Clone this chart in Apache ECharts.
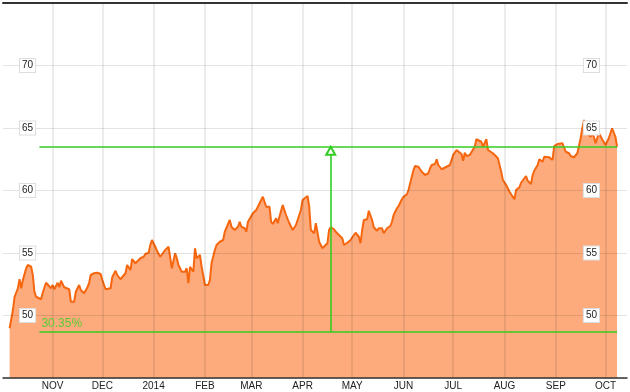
<!DOCTYPE html>
<html>
<head>
<meta charset="utf-8">
<script src="https://cdn.jsdelivr.net/npm/echarts@6/dist/echarts.min.js"></script>
<style>html,body{margin:0;padding:0;background:#fff}#c{width:630px;height:392px}</style>
</head>
<body>
<div id="c"></div>
<script>
// ---- data ----
const dates = [
'2013-10-06','2013-10-08','2013-10-09','2013-10-11','2013-10-12','2013-10-13','2013-10-14','2013-10-16','2013-10-17','2013-10-19',
'2013-10-20','2013-10-21','2013-10-22','2013-10-23','2013-10-25','2013-10-26','2013-10-28','2013-10-29','2013-10-31',
'2013-11-01','2013-11-02','2013-11-04','2013-11-05','2013-11-06','2013-11-08','2013-11-09','2013-11-11','2013-11-12','2013-11-14',
'2013-11-15','2013-11-17','2013-11-18','2013-11-20','2013-11-22','2013-11-23','2013-11-24','2013-11-26','2013-11-28','2013-11-30',
'2013-12-01','2013-12-03','2013-12-04','2013-12-06','2013-12-07','2013-12-09','2013-12-10','2013-12-12','2013-12-13','2013-12-15',
'2013-12-16','2013-12-18','2013-12-19','2013-12-21','2013-12-22','2013-12-24','2013-12-26','2013-12-27','2013-12-29','2013-12-30','2013-12-31',
'2014-01-02','2014-01-03','2014-01-05','2014-01-06','2014-01-08','2014-01-10','2014-01-12','2014-01-14','2014-01-15','2014-01-16',
'2014-01-18','2014-01-20','2014-01-21','2014-01-22','2014-01-23','2014-01-25','2014-01-26','2014-01-27','2014-01-29','2014-01-30',
'2014-02-01','2014-02-03','2014-02-04','2014-02-05','2014-02-07','2014-02-08','2014-02-10','2014-02-12','2014-02-13','2014-02-16',
'2014-02-17','2014-02-18','2014-02-19','2014-02-21','2014-02-22','2014-02-23','2014-02-25','2014-02-26','2014-02-27','2014-02-28',
'2014-03-02','2014-03-04','2014-03-05','2014-03-07','2014-03-08','2014-03-10','2014-03-12','2014-03-13','2014-03-14','2014-03-16',
'2014-03-17','2014-03-18','2014-03-20','2014-03-22','2014-03-23','2014-03-24','2014-03-26','2014-03-28','2014-03-29','2014-03-31',
'2014-04-01','2014-04-04','2014-04-05','2014-04-06','2014-04-08','2014-04-09','2014-04-11','2014-04-13','2014-04-14','2014-04-16',
'2014-04-17','2014-04-18','2014-04-20','2014-04-21','2014-04-23','2014-04-25','2014-04-26','2014-04-28','2014-04-30',
'2014-05-02','2014-05-03','2014-05-05','2014-05-06','2014-05-07','2014-05-08','2014-05-10','2014-05-11','2014-05-13','2014-05-14',
'2014-05-16','2014-05-17','2014-05-19','2014-05-20','2014-05-22','2014-05-24','2014-05-25','2014-05-26','2014-05-28','2014-05-29','2014-05-31',
'2014-06-01','2014-06-03','2014-06-04','2014-06-05','2014-06-07','2014-06-08','2014-06-10','2014-06-11','2014-06-12','2014-06-14',
'2014-06-16','2014-06-17','2014-06-18','2014-06-20','2014-06-21','2014-06-22','2014-06-24','2014-06-25','2014-06-27','2014-06-29','2014-06-30',
'2014-07-01','2014-07-03','2014-07-04','2014-07-06','2014-07-07','2014-07-08','2014-07-09','2014-07-11','2014-07-12','2014-07-14',
'2014-07-15','2014-07-16','2014-07-18','2014-07-19','2014-07-21','2014-07-22','2014-07-23','2014-07-25','2014-07-26','2014-07-28',
'2014-07-29','2014-07-30','2014-07-31',
'2014-08-02','2014-08-04','2014-08-05','2014-08-06','2014-08-07','2014-08-08','2014-08-10','2014-08-11','2014-08-13','2014-08-14',
'2014-08-15','2014-08-17','2014-08-18','2014-08-19','2014-08-21','2014-08-22','2014-08-24','2014-08-25','2014-08-26','2014-08-28',
'2014-08-29','2014-08-30','2014-08-31',
'2014-09-02','2014-09-03','2014-09-05','2014-09-06','2014-09-07','2014-09-09','2014-09-10','2014-09-12','2014-09-13','2014-09-14',
'2014-09-16','2014-09-17','2014-09-18','2014-09-19','2014-09-20','2014-09-22','2014-09-23','2014-09-24','2014-09-25','2014-09-27',
'2014-09-28','2014-09-29','2014-09-30',
'2014-10-01','2014-10-03','2014-10-05','2014-10-06','2014-10-07','2014-10-08'
];
const prices = [
48.98,50.44,51.50,52.18,52.90,52.18,52.84,53.78,54.04,53.90,
53.24,51.90,51.50,51.64,51.30,51.82,52.62,52.62,52.18,
52.44,52.10,52.62,52.26,52.78,52.26,52.36,52.10,51.10,51.10,
51.90,52.44,52.04,51.78,52.26,52.58,53.24,53.38,53.42,53.32,
52.84,52.10,52.26,52.18,53.06,53.58,53.24,52.90,52.78,53.38,
54.04,53.64,54.50,54.18,54.30,54.58,54.70,54.92,55.02,55.64,56.04,
55.50,55.18,54.70,54.84,55.24,55.50,53.78,54.98,54.58,54.04,
53.50,53.50,53.78,52.58,53.90,53.50,55.38,54.58,54.84,53.90,
52.44,52.44,52.84,54.18,55.24,55.64,55.90,56.04,56.70,57.64,
57.10,57.24,56.84,57.10,57.50,57.10,56.98,56.70,57.50,57.38,
58.18,58.44,58.70,59.24,59.50,58.70,58.70,57.50,57.32,57.78,
57.38,57.90,58.84,58.04,57.90,57.38,56.84,57.24,57.64,58.44,
59.24,59.56,58.70,56.84,56.58,57.38,55.90,55.38,55.50,55.78,
56.84,57.06,56.90,56.70,56.44,56.18,55.64,55.82,56.04,
56.44,56.62,56.30,55.78,56.84,57.64,57.70,58.38,57.64,57.06,
56.78,56.98,56.98,56.58,56.98,57.16,57.50,58.04,58.58,58.76,59.30,
59.50,59.70,60.04,60.58,61.64,61.96,61.90,61.70,61.50,61.24,
61.38,61.78,62.04,62.12,62.50,62.04,61.70,61.78,61.90,62.04,62.12,
62.84,63.24,63.24,62.92,62.38,63.02,62.76,62.84,62.70,63.50,
64.10,64.04,63.90,63.50,64.10,63.24,63.38,62.98,63.02,62.58,
62.58,61.50,60.84,
60.44,59.90,59.90,59.50,59.30,60.04,60.26,60.62,60.98,61.16,
60.78,60.52,61.24,61.58,62.04,62.50,62.30,62.70,62.84,62.66,
62.70,62.44,63.56,
63.72,63.64,63.78,63.64,63.10,62.98,62.76,62.66,62.50,62.98,
64.18,64.98,65.64,64.70,64.62,64.30,64.52,64.30,63.78,64.58,
64.44,64.10,64.04,
63.64,64.18,64.98,64.98,64.30,63.50
];
const monthTicks = ['2013-11-01','2013-12-01','2014-01-01','2014-02-01','2014-03-01','2014-04-01','2014-05-01','2014-06-01','2014-07-01','2014-08-01','2014-09-01','2014-10-01'];
const monthLabels = ['NOV','DEC','2014','FEB','MAR','APR','MAY','JUN','JUL','AUG','SEP','OCT'];
const axisStart = '2013-10-02';
const axisEnd = '2014-10-14';
const yTicks = [50, 55, 60, 65, 70];
// annotation (change measurement)
const annotStart = '2013-10-24';
const annotEnd = '2014-10-08';
const annotArrowDate = '2014-04-18';
const annotLow = 48.72;
const annotHigh = 63.5;
const annotText = '30.35%';

// ---- chart ----
function toTs(s){ const p = s.split('-').map(Number); return Date.UTC(p[0], p[1]-1, p[2]); }
const monthTs = monthTicks.map(toTs);
const seriesData = dates.map((d, i) => [toTs(d), prices[i]]);
const FONT = '"Liberation Sans", Arial, sans-serif';
const GREEN = '#33cc22';

const yLabel = {
  inside: true, showMinLabel: false, showMaxLabel: false,
  color: '#222', fontSize: 10, fontFamily: FONT,
  backgroundColor: '#fff', borderColor: '#ddd', borderWidth: 1, padding: [2, 2, 1, 2],
  formatter: v => yTicks.includes(v) ? String(v) : ''
};

const chart = echarts.init(document.getElementById('c'), null, {renderer: 'canvas'});
chart.setOption({
  animation: false,
  backgroundColor: '#fff',
  grid: {left: 3, right: 3, top: 3, bottom: 14, containLabel: false},
  xAxis: [{
    type: 'value', min: toTs(axisStart), max: toTs(axisEnd),
    axisLine: {lineStyle: {color: '#333', width: 1.5}},
    axisTick: {show: false, customValues: monthTs},
    axisLabel: {
      customValues: monthTs, color: '#222', fontSize: 10, margin: 3, fontFamily: FONT,
      formatter: v => { const i = monthTs.indexOf(v); return i >= 0 ? monthLabels[i] : ''; }
    },
    splitLine: {show: true, lineStyle: {color: 'rgba(0,0,0,0.08)', width: 2}}
  }, {
    type: 'value', position: 'top', min: toTs(axisStart), max: toTs(axisEnd),
    axisLine: {lineStyle: {color: '#333', width: 2}},
    axisTick: {show: false}, axisLabel: {show: false}, splitLine: {show: false}
  }],
  yAxis: [{
    type: 'value', position: 'left', min: 45, max: 75, interval: 5,
    axisLine: {show: false}, axisTick: {show: false},
    axisLabel: Object.assign({margin: 17}, yLabel),
    splitLine: {show: true, lineStyle: {color: 'rgba(0,0,0,0.11)', width: 1}}
  }, {
    type: 'value', position: 'right', min: 45, max: 75, interval: 5,
    axisLine: {show: false}, axisTick: {show: false},
    axisLabel: Object.assign({margin: 28}, yLabel),
    splitLine: {show: false}
  }],
  series: [{
    type: 'line', z: -1,
    data: seriesData,
    showSymbol: false, symbol: 'none',
    lineStyle: {color: '#f5660f', width: 2},
    areaStyle: {color: '#fdab7d', opacity: 1},
    markLine: {
      silent: true, animation: false,
      symbol: ['none', 'none'],
      lineStyle: {color: GREEN, width: 1.6, type: 'solid'},
      label: {show: false},
      data: [
        [
          {coord: [toTs(annotStart), annotLow],
           label: {show: true, position: 'insideStartTop', formatter: annotText, color: '#5ccc36', fontSize: 12, fontFamily: FONT, distance: [2, 2]}},
          {coord: [toTs(annotEnd), annotLow]}
        ],
        [
          {coord: [toTs(annotStart), annotHigh]},
          {coord: [toTs(annotEnd), annotHigh]}
        ],
        [
          {coord: [toTs(annotArrowDate), annotLow], symbol: 'none'},
          {coord: [toTs(annotArrowDate), annotHigh], symbol: 'emptyTriangle', symbolSize: [9, 8], symbolOffset: [0, 4]}
        ]
      ]
    }
  }]
});
</script>
</body>
</html>
